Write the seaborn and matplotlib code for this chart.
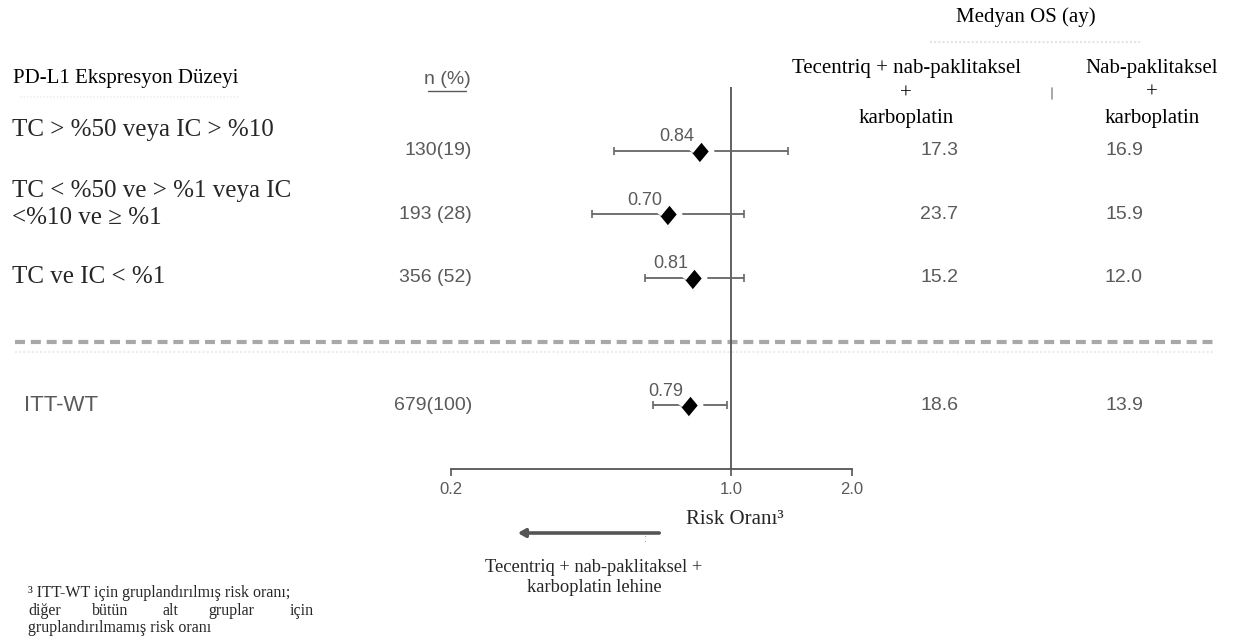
import numpy as np
import pandas as pd
import matplotlib
matplotlib.use("Agg")
import matplotlib.pyplot as plt
import seaborn as sns
from matplotlib import font_manager
from matplotlib.transforms import blended_transform_factory
from matplotlib.lines import Line2D

# ---- data -------------------------------------------------------------
subgroups = ["TC > %50 veya IC > %10",
             "TC < %50 ve > %1 veya IC\n<%10 ve ≥ %1",
             "TC ve IC < %1",
             "ITT-WT"]
n_labels = ["130(19)", "193 (28)", "356 (52)", "679(100)"]
hazard_ratio = [0.84, 0.70, 0.81, 0.79]
ci_low = [0.51, 0.45, 0.61, 0.64]
ci_high = [1.39, 1.08, 1.08, 0.98]
os_atezo = ["17.3", "23.7", "15.2", "18.6"]
os_control = ["16.9", "15.9", "12.0", "13.9"]
x_ticks = [0.2, 1.0, 2.0]
x_tick_labels = ["0.2", "1.0", "2.0"]

# ---- style ------------------------------------------------------------
sns.set_theme(style="white")
names = {f.name for f in font_manager.fontManager.ttflist}
SERIF = "Liberation Serif"
SANS = "Liberation Sans Narrow" if "Liberation Sans Narrow" in names else "Liberation Sans"
plt.rcParams["font.family"] = [SERIF, "DejaVu Serif"]
GREY = "#5a5a5a"

W, H = 1236, 644
fig = plt.figure(figsize=(W / 100, H / 100), dpi=100, facecolor="white")


def fx(x):
    return x / W


def fy(y):
    return 1 - y / H


# Forest panel: log risk-ratio axis, rows top to bottom (ITT row after a gap)
row_pos = [0, 1, 2, 4]
ax = fig.add_axes([fx(451), 1 - 469 / H, 400.6 / W, 382 / H])
df = pd.DataFrame({"grup": subgroups, "hr": hazard_ratio, "lo": ci_low,
                   "hi": ci_high, "row": row_pos})

ax.set_xscale("log")
ax.set_xlim(0.2, 2.0)
ax.set_ylim(5.0, -1.0)

ax.axvline(1.0, color="#555555", lw=1.3, zorder=1)
ax.errorbar(df["hr"], df["row"],
            xerr=[df["hr"] - df["lo"], df["hi"] - df["hr"]],
            fmt="none", ecolor="#666666", elinewidth=1.3, capsize=2.8,
            capthick=1.2, zorder=2)
diamond = [(0, -1), (0.83, 0), (0, 1), (-0.83, 0)]
sns.scatterplot(data=df, x="hr", y="row", marker=diamond, s=330,
                color="black", edgecolor="white", linewidth=3.6,
                ax=ax, zorder=3, legend=False)
for hr, r in zip(df["hr"], df["row"]):
    ax.annotate(f"{hr:.2f}", xy=(hr, r), xytext=(-24, 14),
                textcoords="offset pixels", ha="center", va="center",
                fontsize=13, color=GREY, family=SANS)

for s in ("top", "left", "right"):
    ax.spines[s].set_visible(False)
ax.spines["bottom"].set_color("#555555")
ax.spines["bottom"].set_linewidth(1.3)
ax.set_xticks(x_ticks)
ax.set_xticklabels(x_tick_labels)
ax.xaxis.set_minor_locator(matplotlib.ticker.NullLocator())
ax.tick_params(axis="x", bottom=True, direction="out", length=5, width=1.2,
               color="#555555", labelsize=12, labelcolor=GREY, pad=4)
for lab in ax.get_xticklabels():
    lab.set_family(SANS)
ax.set_yticks([])
ax.set_xlabel("")
ax.set_ylabel("")
ax.patch.set_alpha(0)

# rows: figure x, data y
tr = blended_transform_factory(fig.transFigure, ax.transData)

# dashed separator before the ITT row
ax.add_line(Line2D([fx(15), fx(1215)], [3.0, 3.0], transform=tr,
                   color="#a8a8a8", lw=3, dashes=(2.4, 1.4), clip_on=False,
                   zorder=0))
ax.add_line(Line2D([fx(15), fx(1215)], [3.17, 3.17], transform=tr,
                   color="#ececec", lw=1.5, ls=(0, (1, 1)), clip_on=False,
                   zorder=0))

# n (%) column and median OS columns
for lab, a, c, r in zip(n_labels, os_atezo, os_control, row_pos):
    ax.text(fx(472), r, lab, transform=tr, ha="right", va="center",
            fontsize=14, color=GREY, family=SANS)
    ax.text(fx(939), r, a, transform=tr, ha="center", va="center",
            fontsize=14, color=GREY, family=SANS)
    ax.text(fx(1124), r, c, transform=tr, ha="center", va="center",
            fontsize=14, color=GREY, family=SANS)

# ---- headers ---------------------------------------------------------
fig.text(fx(13), fy(78), "PD-L1 Ekspresyon Düzeyi", ha="left", va="center",
         fontsize=15, color="black")
fig.add_artist(Line2D([fx(20), fx(240)], [fy(97), fy(97)], color="#efefef",
                      lw=1.2, ls=(0, (1, 1))))
fig.text(fx(447), fy(80), "n (%)", ha="center", va="center", fontsize=14,
         color=GREY, family=SANS)
fig.add_artist(Line2D([fx(428), fx(466)], [fy(91), fy(91)], color=GREY, lw=1))

fig.text(fx(1026), fy(17), "Medyan OS (ay)", ha="center", va="center",
         fontsize=15, color="black")
fig.add_artist(Line2D([fx(930), fx(1140)], [fy(42), fy(42)], color="#e4e4e4",
                      lw=1.5, ls=(0, (1, 1))))
for txt, y in zip(["Tecentriq + nab-paklitaksel", "+", "karboplatin"],
                  [68, 94, 118]):
    fig.text(fx(906), fy(y), txt, ha="center", va="center", fontsize=15,
             color="black")
for txt, y in zip(["Nab-paklitaksel", "+", "karboplatin"], [68, 93, 118]):
    fig.text(fx(1152), fy(y), txt, ha="center", va="center", fontsize=15,
             color="black")
fig.add_artist(Line2D([fx(1052), fx(1052)], [fy(88), fy(99)], color="#9a9a9a",
                      lw=1.2))

# subgroup labels
fig.text(fx(12), fy(130), subgroups[0], ha="left", va="center", fontsize=18)
l1, l2 = subgroups[1].split("\n")
fig.text(fx(12), fy(191), l1, ha="left", va="center", fontsize=18)
fig.text(fx(12), fy(218), l2, ha="left", va="center", fontsize=18)
fig.text(fx(12), fy(277), subgroups[2], ha="left", va="center", fontsize=18)
ax.text(fx(24), row_pos[3], subgroups[3], transform=tr, ha="left",
        va="center", fontsize=16, color=GREY, family=SANS)

# ---- axis caption and direction arrow ----------------------------------
fig.text(fx(735), fy(520), "Risk Oranı³", ha="center", va="center",
         fontsize=15)
ax.annotate("", xy=(515, H - 533), xytext=(662, H - 533),
            xycoords="figure pixels", textcoords="figure pixels",
            arrowprops=dict(arrowstyle="-|>,head_length=0.35,head_width=0.2",
                            color="#555555", lw=2.6))
fig.text(fx(646), fy(539), ":", ha="center", va="center", fontsize=8,
         color="#888888", family=SANS)
fig.text(fx(594), fy(567), "Tecentriq + nab-paklitaksel +", ha="center",
         va="center", fontsize=13.3)
fig.text(fx(594), fy(587), "karboplatin lehine", ha="center", va="center",
         fontsize=13.3)

# ---- footnote ----------------------------------------------------------
fig.text(fx(28), fy(593), "³ ITT-WT için gruplandırılmış risk oranı;",
         ha="left", va="center", fontsize=11.5)
for word, x in zip(["diğer", "bütün", "alt", "gruplar", "için"],
                   [28, 92, 163, 208, 290]):
    fig.text(fx(x), fy(611), word, ha="left", va="center", fontsize=11.5)
fig.text(fx(28), fy(628), "gruplandırılmamış risk oranı", ha="left",
         va="center", fontsize=11.5)

fig.savefig("out.png", dpi=100, facecolor="white")
